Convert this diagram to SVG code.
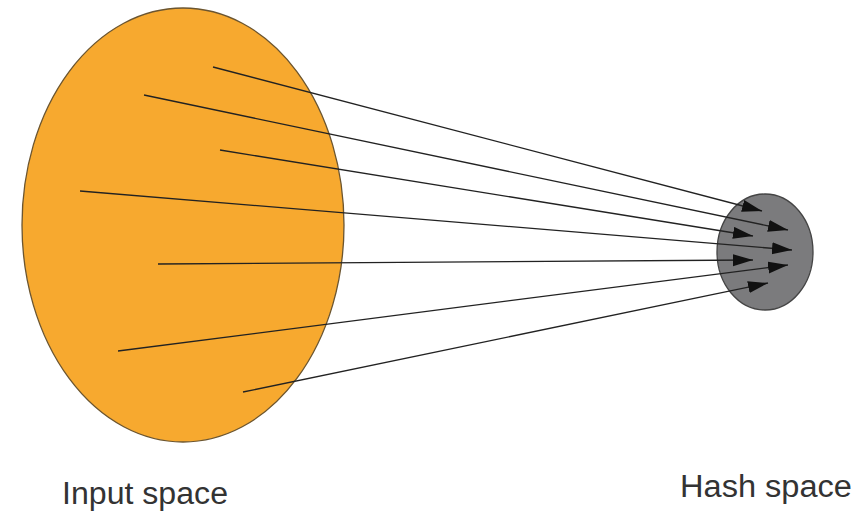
<svg xmlns="http://www.w3.org/2000/svg" width="864" height="512" viewBox="0 0 864 512">
<style>
.lbl{font-family:"Liberation Sans",Arial,sans-serif;font-size:31px;fill:#333}
.conn line{stroke:#222;stroke-width:1.3;marker-end:url(#ah)}
</style>
<defs>
<marker id="ah" markerUnits="userSpaceOnUse" markerWidth="22" markerHeight="14" refX="20" refY="6" orient="auto">
<path d="M0,0 L20,6 L0,12 Z" fill="#111"/>
</marker>
</defs>
<rect width="864" height="512" fill="#fff"/>
<g id="input-space">
<ellipse cx="183" cy="225" rx="161" ry="217" fill="#F7A92F" stroke="#6b5530" stroke-width="1.3"/>
<text class="lbl" x="62" y="504" textLength="166" lengthAdjust="spacingAndGlyphs">Input space</text>
</g>
<g id="hash-space">
<ellipse cx="765" cy="252" rx="48" ry="58" fill="#7b7b7d" stroke="#444" stroke-width="1.3"/>
<text class="lbl" x="680" y="497" textLength="172" lengthAdjust="spacingAndGlyphs">Hash space</text>
</g>
<g class="conn" id="connectors">
<line x1="213" y1="67" x2="762" y2="211"/>
<line x1="144" y1="95" x2="788" y2="230"/>
<line x1="220" y1="150" x2="753" y2="236"/>
<line x1="80" y1="191" x2="792" y2="250"/>
<line x1="158" y1="264" x2="753" y2="260"/>
<line x1="118" y1="351" x2="788" y2="265"/>
<line x1="243" y1="392" x2="768" y2="283"/>
</g>
</svg>
